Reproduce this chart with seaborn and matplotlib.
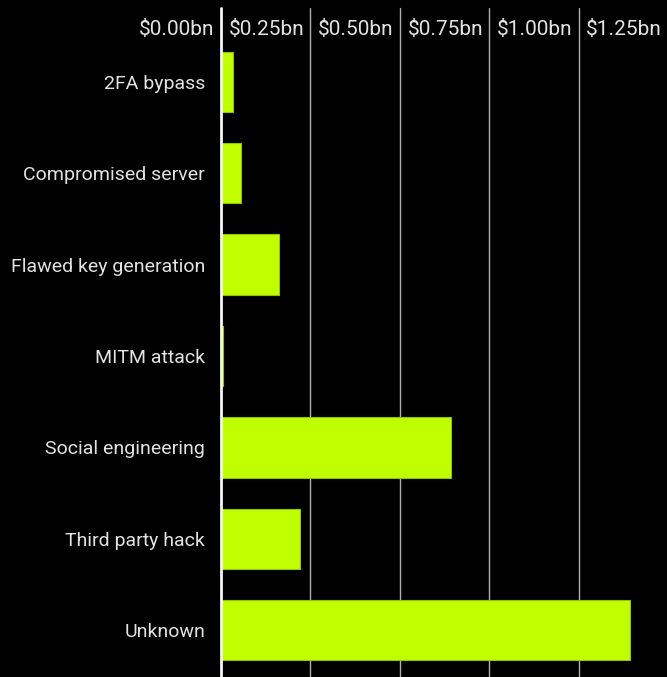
import matplotlib
matplotlib.use("Agg")
import matplotlib.pyplot as plt
import matplotlib.transforms as mtransforms
import seaborn as sns
import pandas as pd

# Losses by attack vector, in billions of US dollars
categories = ["2FA bypass", "Compromised server", "Flawed key generation",
              "MITM attack", "Social engineering", "Third party hack", "Unknown"]
losses_bn = [0.034, 0.058, 0.164, 0.008, 0.644, 0.222, 1.144]
tick_values = [0.0, 0.25, 0.5, 0.75, 1.0, 1.25]
tick_labels = ["$0.00bn", "$0.25bn", "$0.50bn", "$0.75bn", "$1.00bn", "$1.25bn"]

df = pd.DataFrame({"vector": categories, "loss": losses_bn})

sns.set_theme(style="white")
plt.rcParams["font.family"] = ["Roboto", "DejaVu Sans"]

BG = "#000000"
BAR = "#bfff00"
TEXT = "#e2e2e2"

W, H, DPI = 667, 677, 100
fig = plt.figure(figsize=(W / DPI, H / DPI), dpi=DPI, facecolor=BG)
left, right, top, bottom = 220.5, 668.0, 36.0, 676.0
ax = fig.add_axes([left / W, 1 - bottom / H, (right - left) / W, (bottom - top) / H])
ax.set_facecolor(BG)

sns.barplot(data=df, y="vector", x="loss", orient="h", color=BAR,
            saturation=1, width=0.66, edgecolor="#94c400", linewidth=0.8,
            ax=ax, zorder=3)

ax.set_xlim(0, 1.25)
ax.set_ylim(6.5, -0.5)
ax.set_xlabel("")
ax.set_ylabel("")
for s in ax.spines.values():
    s.set_visible(False)

# Vertical gridlines that run up through the top label band
extra = (top - 8) / (bottom - top)
for v in tick_values[1:]:
    ax.axvline(v, ymin=0, ymax=1 + extra, color="#b0b0b0", lw=1.0,
               clip_on=False, zorder=1)
ax.axvline(0, ymin=0, ymax=1 + extra, color="#f5f5f5", lw=2.0,
           clip_on=False, zorder=4)

ax.set_xticks(tick_values)
ax.set_xticklabels(tick_labels)
ax.tick_params(axis="x", which="both", bottom=False, top=False, length=0,
               labelbottom=False, labeltop=True, labelsize=15,
               labelcolor=TEXT, pad=-2.5)
shift = mtransforms.ScaledTranslation(-6 / DPI, 0, fig.dpi_scale_trans)
for lab in ax.get_xticklabels():
    lab.set_horizontalalignment("right")
    lab.set_transform(lab.get_transform() + shift)

ax.tick_params(axis="y", which="both", left=False, length=0, labelsize=14,
               labelcolor=TEXT, pad=11)

fig.savefig("out.png", dpi=DPI, facecolor=BG)
